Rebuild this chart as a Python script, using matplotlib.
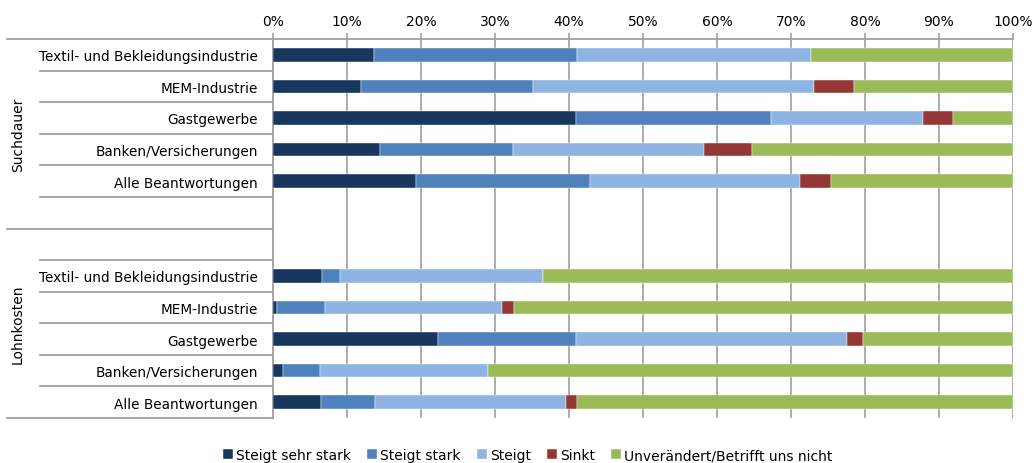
import numpy as np
import matplotlib
matplotlib.use('Agg')
import matplotlib.pyplot as plt
from matplotlib.transforms import blended_transform_factory

plt.rcParams['font.family'] = ['DejaVu Sans']

groups = ['Suchdauer', 'Lohnkosten']
categories = ['Textil- und Bekleidungsindustrie', 'MEM-Industrie', 'Gastgewerbe',
              'Banken/Versicherungen', 'Alle Beantwortungen']
series = ['Steigt sehr stark', 'Steigt stark', 'Steigt', 'Sinkt',
          'Unverändert/Betrifft uns nicht']
colors = ['#17375E', '#4F81BD', '#8EB4E3', '#953735', '#9BBB59']

# percent per category, columns follow `series`
suchdauer = [
    [13.6, 27.5, 31.6, 0.0, 27.3],
    [11.9, 23.2, 38.0, 5.4, 21.5],
    [40.9, 26.4, 20.5, 4.1, 8.1],
    [14.4, 18.0, 25.8, 6.5, 35.3],
    [19.3, 23.5, 28.4, 4.2, 24.6],
]
lohnkosten = [
    [6.6, 2.4, 27.5, 0.0, 63.5],
    [0.6, 6.4, 24.0, 1.5, 67.5],
    [22.3, 18.6, 36.7, 2.1, 20.3],
    [1.4, 4.9, 22.7, 0.0, 71.0],
    [6.45, 7.4, 25.75, 1.5, 58.9],
]

# slots 0-4 Suchdauer, 5-6 empty, 7-11 Lohnkosten
ypos = [0, 1, 2, 3, 4, 7, 8, 9, 10, 11]
data = np.array(suchdauer + lohnkosten)

fig = plt.figure(figsize=(10.35, 4.64), dpi=100)
ax = fig.add_axes([273/1035, 45/464, 740/1035, 379/464])

left = np.zeros(len(ypos))
for j, name in enumerate(series):
    ax.barh(ypos, data[:, j], left=left, height=0.43, color=colors[j],
            label=name, edgecolor='white', linewidth=0.3, zorder=3)
    left += data[:, j]

ax.set_xlim(0, 100)
ax.set_ylim(11.5, -0.5)
ax.set_xticks(np.arange(0, 101, 10))
ax.set_xticklabels([f'{v}%' for v in range(0, 101, 10)])
ax.xaxis.tick_top()
ax.tick_params(axis='x', length=4, color='#A0A0A0', labelsize=10, pad=4, width=1.2)
ax.set_yticks(ypos)
ax.set_yticklabels(categories * 2, fontsize=9.8)
ax.tick_params(axis='y', length=0, pad=11)
ax.grid(axis='x', color='#A6A6A6', linewidth=1.3, zorder=0)
for s in ['right', 'bottom']:
    ax.spines[s].set_visible(False)
for s in ['left', 'top']:
    ax.spines[s].set_color('#A0A0A0')
    ax.spines[s].set_linewidth(1.3)

# category separator lines left of the plot
tr = blended_transform_factory(fig.transFigure, ax.transData)
x_in, x_out, x_end = 40/1035, 7/1035, 273/1035
for b in [0.5, 1.5, 2.5, 3.5, 4.5, 6.5, 7.5, 8.5, 9.5, 10.5]:
    ax.plot([x_in, x_end], [b, b], transform=tr, color='#A0A0A0',
            linewidth=1.3, clip_on=False)
for b in [-0.5, 5.5, 11.5]:
    ax.plot([x_out, x_end], [b, b], transform=tr, color='#A0A0A0',
            linewidth=1.3, clip_on=False)

ax.text(18/1035, 2.5, groups[0], transform=tr, rotation=90, ha='center',
        va='center', fontsize=10)
ax.text(18/1035, 8.5, groups[1], transform=tr, rotation=90, ha='center',
        va='center', fontsize=10)

fig.legend(loc='lower center', bbox_to_anchor=(0.51, -0.025), ncol=5,
           frameon=False, fontsize=10, handlelength=0.7, handleheight=0.7,
           handletextpad=0.2, columnspacing=1.2)

fig.savefig('out.png', dpi=100)
